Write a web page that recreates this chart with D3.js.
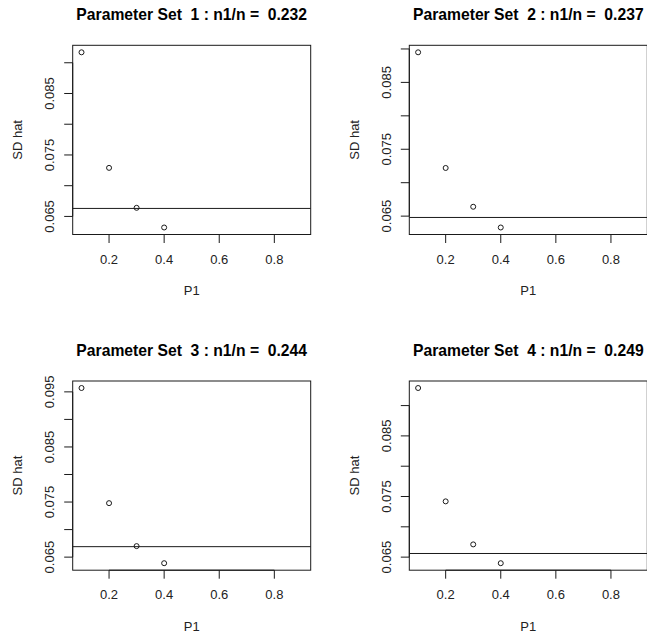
<!DOCTYPE html>
<html>
<head>
<meta charset="utf-8">
<script src="https://cdn.jsdelivr.net/npm/d3@7"></script>
<style>
  html, body { margin: 0; padding: 0; background: #fff; overflow: hidden; }
  svg { display: block; font-family: "Liberation Sans", Arial, sans-serif; }
  text { white-space: pre; }
</style>
</head>
<body>
<svg id="chart" width="647" height="641"></svg>
<script>
// values
const setIds = [1, 2, 3, 4];
const ratios = ["0.232", "0.237", "0.244", "0.249"];
const p1Values = [0.1, 0.2, 0.3, 0.4];
const sdHatSet1 = [0.0917, 0.0729, 0.0664, 0.0632];
const sdHatSet2 = [0.0895, 0.0722, 0.0664, 0.0633];
const sdHatSet3 = [0.0957, 0.0748, 0.0670, 0.0639];
const sdHatSet4 = [0.0929, 0.0742, 0.0671, 0.0640];
const refLines = [0.0663, 0.0648, 0.0669, 0.0656];
const xLim = [0.1, 0.9];
const xTicks = [0.2, 0.4, 0.6, 0.8];
const yTickStep = 0.005;

const sdHats = [sdHatSet1, sdHatSet2, sdHatSet3, sdHatSet4];

// layout (R-like mfrow 2x2)
const figW = 336.6, figH = 335.7;
const mar = { left: 72.7, top: 45.3 };
const plotW = 238, plotH = 189.2;
const ink = "#1a1a1a";

const svg = d3.select("#chart");

// R style 4% range extension
function extend(lo, hi) {
  const d = (hi - lo) * 0.04;
  return [lo - d, hi + d];
}

setIds.forEach((id, i) => {
  const col = i % 2, row = Math.floor(i / 2);
  const g = svg.append("g")
    .attr("transform", `translate(${col * figW + mar.left},${row * figH + mar.top})`);

  const vals = sdHats[i];
  const x = d3.scaleLinear().domain(extend(xLim[0], xLim[1])).range([0, plotW]);
  const y = d3.scaleLinear().domain(extend(d3.min(vals), d3.max(vals))).range([plotH, 0]);

  // x axis
  const xAxis = g.append("g").attr("transform", `translate(0,${plotH})`);
  xAxis.append("line")
    .attr("x1", x(xTicks[0])).attr("x2", x(xTicks[xTicks.length - 1]))
    .attr("stroke", ink);
  xAxis.selectAll("line.tick").data(xTicks).enter().append("line")
    .attr("class", "tick")
    .attr("x1", d => x(d)).attr("x2", d => x(d))
    .attr("y1", 0).attr("y2", 8.5)
    .attr("stroke", ink);
  xAxis.selectAll("text").data(xTicks).enter().append("text")
    .attr("x", d => x(d)).attr("y", 29)
    .attr("text-anchor", "middle")
    .attr("font-size", 13).attr("fill", "#222")
    .text(d3.format(".1f"));

  // y axis: ticks every 0.005, labels only every other one (R drops overlapping ones)
  const dom = y.domain();
  const yTicks = d3.range(Math.ceil(dom[0] / yTickStep), Math.floor(dom[1] / yTickStep) + 1)
    .map(k => +(k * yTickStep).toFixed(3));
  const yAxis = g.append("g");
  yAxis.append("line")
    .attr("y1", y(yTicks[0])).attr("y2", y(yTicks[yTicks.length - 1]))
    .attr("stroke", ink);
  yAxis.selectAll("line.tick").data(yTicks).enter().append("line")
    .attr("class", "tick")
    .attr("y1", d => y(d)).attr("y2", d => y(d))
    .attr("x1", 0).attr("x2", -8.5)
    .attr("stroke", ink);
  yAxis.selectAll("text").data(yTicks.filter((d, k) => k % 2 === 0)).enter().append("text")
    .attr("transform", d => `translate(-18.7,${y(d)}) rotate(-90)`)
    .attr("text-anchor", "middle")
    .attr("font-size", 13).attr("fill", "#222")
    .text(d3.format(".3f"));

  // reference line (clipped to plot region like abline)
  g.append("line")
    .attr("x1", 0).attr("x2", plotW)
    .attr("y1", y(refLines[i])).attr("y2", y(refLines[i]))
    .attr("stroke", ink);

  // points
  g.selectAll("circle").data(p1Values).enter().append("circle")
    .attr("cx", d => x(d))
    .attr("cy", (d, k) => y(vals[k]))
    .attr("r", 2.5)
    .attr("fill", "none").attr("stroke", ink).attr("stroke-width", 1);

  // box
  g.append("rect")
    .attr("width", plotW).attr("height", plotH)
    .attr("fill", "none").attr("stroke", ink).attr("stroke-width", 1);

  // titles
  g.append("text")
    .attr("x", plotW / 2).attr("y", -25.3)
    .attr("text-anchor", "middle")
    .attr("font-size", 15.7).attr("font-weight", "bold").attr("fill", "#000")
    .text(`Parameter Set  ${id} : n1/n =  ${ratios[i]}`);
  g.append("text")
    .attr("x", plotW / 2).attr("y", plotH + 61)
    .attr("text-anchor", "middle")
    .attr("font-size", 13).attr("fill", "#222")
    .text("P1");
  g.append("text")
    .attr("transform", `translate(-50.7,${plotH / 2}) rotate(-90)`)
    .attr("text-anchor", "middle")
    .attr("font-size", 13).attr("fill", "#222")
    .text("SD hat");
});
</script>
</body>
</html>
